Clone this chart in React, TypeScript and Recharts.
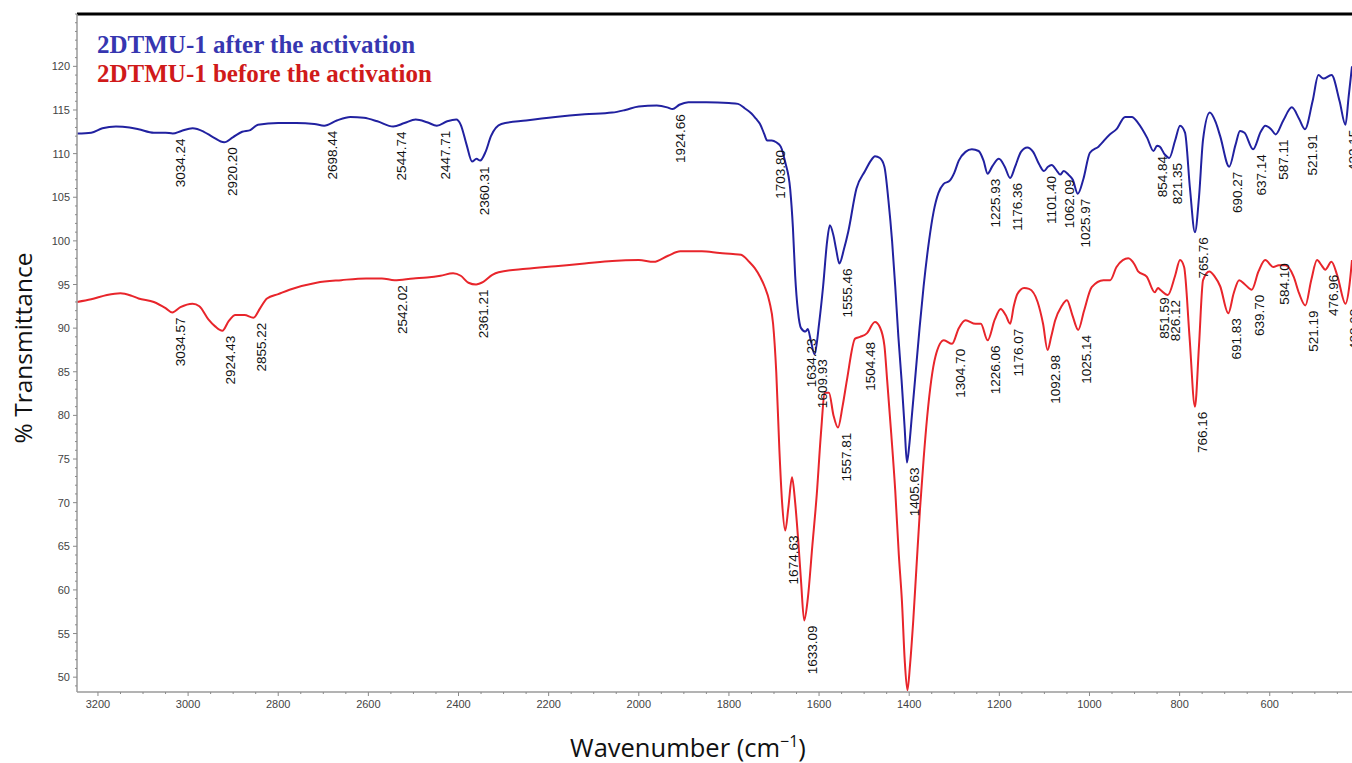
import React from 'react';
import { ComposedChart, Line, Scatter, XAxis, YAxis, ReferenceLine, Legend } from 'recharts';

const seriesNames = ['2DTMU-1 after the activation', '2DTMU-1 before the activation'];
const lineColors = ['#2121a0', '#e8252b'];
const legendColors = ['#3636b0', '#d01a1a'];

// spectrum after activation (blue)
const afterWavenumber = [
  3246, 3215, 3190, 3160, 3130, 3110, 3076, 3050, 3034, 3015, 2990, 2965, 2945, 2920, 2900, 2880, 2862, 2845,
  2800, 2760, 2720, 2698, 2670, 2640, 2610, 2580, 2545, 2520, 2495, 2470, 2448, 2425, 2405, 2395, 2382, 2370,
  2360, 2352, 2340, 2328, 2305, 2250, 2185, 2120, 2059, 2030, 2000, 1960, 1937, 1925, 1910, 1890, 1850, 1800,
  1780, 1765, 1750, 1740, 1731, 1722, 1715, 1705, 1695, 1685, 1675, 1664, 1658, 1653, 1647, 1640, 1630, 1625, 1618, 1610,
  1600, 1591, 1582, 1576, 1568, 1562, 1555, 1545, 1535, 1517, 1498, 1485, 1476, 1465, 1455, 1446, 1438, 1431,
  1424, 1417, 1410, 1405, 1400, 1394, 1387, 1377, 1368, 1356, 1346, 1335, 1324, 1310, 1300, 1290, 1275, 1261,
  1246, 1235, 1226, 1215, 1201, 1188, 1176, 1165, 1152, 1138, 1125, 1112, 1101, 1092, 1084, 1072, 1065, 1057,
  1047, 1037, 1026, 1014, 999, 980, 955, 940, 921, 906, 892, 872, 858, 850, 844, 833, 823, 810, 799, 788, 777,
  766, 757, 748, 733, 720, 710, 690, 676, 666, 656, 637, 620, 610, 597, 587, 570, 551, 535, 522, 505, 492, 481,
  463, 445, 432, 425, 417.5,
];
const afterTransmittance = [
  112.3, 112.4, 112.9, 113.1, 113.0, 112.8, 112.4, 112.4, 112.3, 112.6, 112.9, 112.5, 111.9, 111.3, 111.9, 112.5, 112.7, 113.3,
  113.5, 113.5, 113.4, 113.2, 113.8, 114.2, 114.1, 113.7, 113.1, 113.5, 113.9, 113.6, 113.2, 113.7, 113.9, 113.3, 111.0, 109.1,
  109.4, 109.2, 110.2, 112.0, 113.4, 113.8, 114.2, 114.5, 114.7, 115.0, 115.4, 115.5, 115.3, 115.1, 115.6, 115.9, 115.9, 115.8,
  115.7, 115.2, 114.6, 114.0, 113.4, 112.3, 111.5, 111.5, 111.3, 110.8, 109.0, 105.9, 101.5, 96.0, 92.0, 90.0, 89.6, 89.9, 88.5, 87.0,
  90.5, 94.8, 100.0, 101.8, 100.6, 99.0, 97.4, 99.0, 101.1, 106.0, 108.0, 109.2, 109.7, 109.5, 108.5, 104.6, 100.0, 94.8,
  89.0, 84.1, 78.5, 74.6, 76.5, 80.0, 84.1, 90.0, 94.8, 100.0, 103.3, 105.5, 106.5, 106.9, 107.8, 109.2, 110.2, 110.5,
  110.3, 109.2, 107.7, 108.6, 109.4, 108.5, 107.2, 108.5, 110.2, 110.7, 110.2, 108.8, 108.0, 108.5, 108.7, 108.0, 107.6, 108.0,
  107.6, 107.0, 105.4, 107.0, 110.1, 110.8, 112.2, 112.8, 114.2, 114.2, 113.5, 111.8, 110.3, 110.9, 110.8, 109.9, 109.5, 111.5, 113.2, 112.4, 106.0,
  101.0, 105.0, 111.6, 114.7, 113.6, 112.0, 108.5, 111.0, 112.6, 112.4, 110.5, 112.5, 113.2, 112.8, 112.2, 113.8, 115.3, 114.0, 112.8, 116.0, 119.0, 118.6,
  119.0, 116.0, 113.3, 116.5, 120.0,
];

// spectrum before activation (red)
const beforeWavenumber = [
  3246, 3215, 3180, 3150, 3125, 3110, 3076, 3050, 3035, 3017, 2990, 2975, 2955, 2940, 2924, 2910, 2895, 2875,
  2855, 2840, 2825, 2800, 2775, 2715, 2660, 2605, 2570, 2542, 2500, 2470, 2440, 2412, 2395, 2378, 2361, 2345,
  2325, 2311, 2250, 2185, 2120, 2059, 2000, 1967, 1935, 1908, 1860, 1820, 1791, 1773, 1755, 1743, 1730, 1721,
  1710, 1702, 1695, 1688, 1682, 1675, 1668, 1660, 1653, 1646, 1640, 1633, 1625, 1615, 1605, 1596, 1587, 1578,
  1568, 1558, 1548, 1538, 1520, 1509, 1494, 1476, 1465, 1455, 1449, 1440, 1431, 1423, 1416, 1410, 1404, 1398,
  1391, 1384, 1376, 1368, 1360, 1342, 1323, 1305, 1290, 1275, 1253, 1241, 1226, 1210, 1197, 1186, 1176, 1168,
  1160, 1145, 1134, 1115, 1103, 1093, 1085, 1076, 1062, 1050, 1038, 1025, 1012, 995, 969, 954, 940, 926, 914,
  900, 892, 873, 855, 848, 843, 826, 810, 799, 790, 778, 766, 757, 748, 734, 722, 710, 692, 680, 668, 655, 640,
  625, 610, 592, 580, 565, 547, 535, 521, 508, 495, 485, 477, 463, 450, 432, 423, 417.5,
];
const beforeTransmittance = [
  93.0, 93.3, 93.8, 94.0, 93.7, 93.4, 93.0, 92.3, 91.8, 92.4, 92.8, 92.5, 91.0, 90.2, 89.7, 90.8, 91.5, 91.5,
  91.2, 92.3, 93.4, 93.9, 94.4, 95.2, 95.5, 95.7, 95.7, 95.5, 95.7, 95.8, 96.0, 96.3, 96.0, 95.2, 95.0, 95.3,
  96.1, 96.4, 96.8, 97.1, 97.4, 97.7, 97.8, 97.6, 98.3, 98.8, 98.8, 98.6, 98.5, 98.4, 97.6, 96.9, 95.8, 94.8,
  93.0, 90.5, 85.0, 76.0, 70.0, 66.8, 69.5, 72.9, 70.0, 65.5, 61.0, 56.5, 59.0, 65.0, 71.0, 77.8, 82.6, 82.6,
  80.0, 78.6, 81.0, 84.1, 88.8, 89.0, 89.4, 90.7, 90.1, 88.0, 84.1, 78.0, 71.4, 64.0, 58.6, 52.0, 48.5, 51.5,
  56.5, 62.5, 69.3, 75.0, 79.9, 86.7, 88.6, 88.2, 90.0, 90.9, 90.5, 90.5, 88.6, 91.0, 92.2, 91.5, 90.5, 92.5,
  93.9, 94.6, 94.5, 93.0, 90.5, 87.5, 89.0, 90.9, 92.5, 93.2, 91.5, 89.8, 92.0, 94.7, 95.5, 95.5, 97.0, 97.8, 98.0,
  97.3, 96.5, 95.9, 94.1, 94.6, 94.4, 93.8, 96.0, 97.8, 97.0, 89.0, 81.0, 88.0, 95.5, 96.5, 95.9, 94.8, 91.7, 94.0, 95.5, 95.0, 94.4,
  96.5, 97.8, 97.0, 97.2, 97.2, 95.9, 94.0, 92.6, 95.5, 97.8, 97.2, 96.7, 97.6, 96.0, 92.8, 95.0, 97.8,
];

// peak labels
const afterPeakLabels = [
  '3034.24', '2920.20', '2698.44', '2544.74', '2447.71', '2360.31', '1924.66', '1703.80', '1634.23', '1609.93',
  '1555.46', '1405.63', '1225.93', '1176.36', '1101.40', '1062.09', '1025.97', '854.84', '821.35', '765.76',
  '690.27', '637.14', '587.11', '521.91', '432.15',
];
const afterPeakTransmittance = [
  112.3, 111.3, 113.2, 113.1, 113.2, 109.1, 115.1, 111.0, 89.4, 87.0,
  97.4, 74.6, 107.7, 107.2, 108.0, 107.6, 105.4, 110.3, 109.5, 101.0,
  108.5, 110.5, 112.2, 112.8, 113.3,
];
const beforePeakLabels = [
  '3034.57', '2924.43', '2855.22', '2542.02', '2361.21', '1674.63', '1633.09', '1557.81', '1504.48', '1304.70',
  '1226.06', '1176.07', '1092.98', '1025.14', '851.59', '826.12', '766.16', '691.83', '639.70', '584.10',
  '521.19', '476.96', '428.93',
];
const beforePeakTransmittance = [
  91.8, 89.7, 91.2, 95.5, 95.0, 66.8, 56.5, 78.6, 89.0, 88.2,
  88.6, 90.5, 87.5, 89.8, 94.1, 93.8, 81.0, 91.7, 94.4, 98.0,
  92.6, 96.7, 92.8,
];

const xMajorTicks = [3200, 3000, 2800, 2600, 2400, 2200, 2000, 1800, 1600, 1400, 1200, 1000, 800, 600];
const yMajorTicks = [50, 55, 60, 65, 70, 75, 80, 85, 90, 95, 100, 105, 110, 115, 120];

// minor ticks every 50 cm-1 and every 1 %
const xTicks: number[] = [];
for (let t = 450; t <= 3200; t += 50) xTicks.push(t);
const yTicks: number[] = [];
for (let t = 49; t <= 126; t += 1) yTicks.push(t);

const afterData = afterWavenumber.map((w, i) => ({ w, v: afterTransmittance[i] }));
const beforeData = beforeWavenumber.map((w, i) => ({ w, v: beforeTransmittance[i] }));
const afterPeaks = afterPeakLabels.map((label, i) => ({ w: parseFloat(label), v: afterPeakTransmittance[i], label }));
const beforePeaks = beforePeakLabels.map((label, i) => ({ w: parseFloat(label), v: beforePeakTransmittance[i], label }));

const sans = '"Liberation Sans", Arial, sans-serif';

const XTick = (props: any) => {
  const { x, y, payload } = props;
  const major = xMajorTicks.includes(payload.value);
  return (
    <g>
      <line x1={x} x2={x} y1={y} y2={y + (major ? 4 : 2)} stroke="#8a8a8a" />
      {major && (
        <text x={x} y={y + 12} textAnchor="middle" dominantBaseline="central" fontSize={11} fill="#444" fontFamily={sans}>
          {payload.value}
        </text>
      )}
    </g>
  );
};

const YTick = (props: any) => {
  const { x, y, payload } = props;
  const major = yMajorTicks.includes(payload.value);
  return (
    <g>
      <line x1={x - (major ? 4 : 2)} x2={x} y1={y} y2={y} stroke="#8a8a8a" />
      {major && (
        <text x={x - 7} y={y} textAnchor="end" dominantBaseline="central" fontSize={11} fill="#444" fontFamily={sans}>
          {payload.value}
        </text>
      )}
    </g>
  );
};

// rotated wavenumber label hanging under each band
const PeakLabel = (props: any) => {
  const { cx, cy, payload } = props;
  if (cx == null || cy == null) return null;
  const x = cx + 8;
  const y = cy + 5;
  return (
    <text
      x={x}
      y={y}
      transform={`rotate(-90 ${x} ${y})`}
      textAnchor="end"
      dominantBaseline="central"
      fontSize={13.5}
      fill="#111"
      fontFamily={sans}
    >
      {payload.label}
    </text>
  );
};

const renderLegend = () => (
  <div
    style={{
      fontFamily: '"Liberation Serif", "Times New Roman", serif',
      fontWeight: 'bold',
      fontSize: 25,
      lineHeight: '29px',
    }}
  >
    {seriesNames.map((name, i) => (
      <div key={name} style={{ color: legendColors[i], whiteSpace: 'nowrap' }}>
        {name}
      </div>
    ))}
  </div>
);

const YTitle = () => (
  <text
    x={22}
    y={348}
    transform="rotate(-90 22 348)"
    textAnchor="middle"
    dominantBaseline="central"
    fontSize={24.5}
    fill="#111"
    fontFamily='"Open Sans", sans-serif'
  >
    % Transmittance
  </text>
);

const XTitle = () => (
  <text x={688} y={757} textAnchor="middle" fontSize={25.5} fill="#111" fontFamily='"Open Sans", sans-serif'>
    Wavenumber (cm
    <tspan fontSize={16} dy={-10}>−1</tspan>
    <tspan dy={10}>)</tspan>
  </text>
);

export default function App() {
  return (
    <div style={{ position: 'absolute', left: 0, top: 0, background: '#fff' }}>
      <ComposedChart width={1352} height={763} margin={{ top: 14, right: 0, bottom: 41, left: 27 }}>
        <XAxis
          dataKey="w"
          type="number"
          domain={[417.5, 3246.5]}
          reversed
          allowDataOverflow
          ticks={xTicks}
          interval={0}
          tickSize={0}
          tickMargin={0}
          tickLine={false}
          tick={<XTick />}
          height={30}
          axisLine={{ stroke: '#9a9a9a', strokeWidth: 1.5 }}
          label={<XTitle />}
        />
        <YAxis
          type="number"
          domain={[48.3, 126]}
          allowDataOverflow
          ticks={yTicks}
          interval={0}
          tickSize={0}
          tickMargin={0}
          tickLine={false}
          tick={<YTick />}
          width={50}
          axisLine={{ stroke: '#9a9a9a', strokeWidth: 1.5 }}
          label={<YTitle />}
        />
        <ReferenceLine y={126} stroke="#000" strokeWidth={3} />
        <Legend
          content={renderLegend}
          layout="horizontal"
          verticalAlign="middle"
          align="center"
          wrapperStyle={{ position: 'absolute', top: 30, left: 97, width: 460 }}
        />
        <Line
          data={afterData}
          dataKey="v"
          name={seriesNames[0]}
          type="monotone"
          stroke={lineColors[0]}
          strokeWidth={2}
          dot={false}
          isAnimationActive={false}
        />
        <Line
          data={beforeData}
          dataKey="v"
          name={seriesNames[1]}
          type="monotone"
          stroke={lineColors[1]}
          strokeWidth={2}
          dot={false}
          isAnimationActive={false}
        />
        <Scatter data={afterPeaks} dataKey="v" shape={<PeakLabel />} legendType="none" isAnimationActive={false} />
        <Scatter data={beforePeaks} dataKey="v" shape={<PeakLabel />} legendType="none" isAnimationActive={false} />
      </ComposedChart>
    </div>
  );
}
